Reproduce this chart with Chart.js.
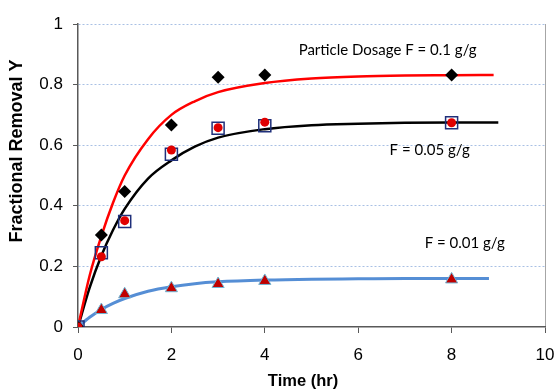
<!DOCTYPE html>
<html>
<head>
<meta charset="utf-8">
<script src="https://cdn.jsdelivr.net/npm/chart.js@4/dist/chart.umd.min.js"></script>
<style>
  html, body { margin: 0; padding: 0; background: #fff; }
  #wrap { width: 556px; height: 390px; position: relative; }
</style>
</head>
<body>
<div id="wrap"><canvas id="graph"></canvas></div>
<script>
// measured points
let times = [0, 0.5, 1, 2, 3, 4, 8];
let dose01 = [0, 0.304, 0.447, 0.667, 0.824, 0.832, 0.832];
let dose005Circle = [0, 0.232, 0.351, 0.584, 0.658, 0.676, 0.674];
let dose005Square = [0, 0.245, 0.348, 0.57, 0.656, 0.664, 0.674];
let dose001 = [0, 0.056, 0.108, 0.128, 0.142, 0.152, 0.157];

// fitted curves
let redTimes = [0, 0.25, 0.5, 0.75, 1, 1.5, 2, 2.5, 3, 4, 5, 6, 7, 8, 8.9];
let redCurve = [0, 0.17, 0.3, 0.41, 0.5, 0.62, 0.7, 0.745, 0.775, 0.805, 0.82, 0.827, 0.83, 0.831, 0.832];
let blackTimes = [0, 0.25, 0.5, 0.75, 1, 1.5, 2, 2.5, 3, 4, 5, 6, 7, 8, 9];
let blackCurve = [0, 0.13, 0.235, 0.32, 0.39, 0.49, 0.55, 0.595, 0.625, 0.653, 0.666, 0.671, 0.674, 0.675, 0.675];
let blueTimes = [0, 0.25, 0.5, 0.75, 1, 1.5, 2, 2.5, 3, 4, 5, 6, 7, 8, 8.8];
let blueCurve = [0, 0.032, 0.058, 0.078, 0.094, 0.118, 0.133, 0.143, 0.149, 0.155, 0.158, 0.159, 0.16, 0.16, 0.16];

let xTicks = [0, 2, 4, 6, 8, 10];
let yTicks = [0, 0.2, 0.4, 0.6, 0.8, 1];

let xTitle = "Time (hr)";
let yTitle = "Fractional Removal Y";
let noteText = ["Particle Dosage F = 0.1 g/g", "F = 0.05 g/g", "F = 0.01 g/g"];
let noteX = [6.63, 7.53, 8.28];
let noteY = [0.914, 0.584, 0.277];

const pts = (xs, ys) => xs.map((x, i) => ({ x: x, y: ys[i] }));

const notesPlugin = {
  id: "notes",
  afterDatasetsDraw(chart) {
    const ctx = chart.ctx;
    const xs = chart.scales.x, ys = chart.scales.y;
    ctx.save();
    ctx.font = "15px Lato";
    ctx.fillStyle = "#000";
    ctx.textAlign = "center";
    ctx.textBaseline = "middle";
    noteText.forEach((t, i) => {
      ctx.fillText(t, xs.getPixelForValue(noteX[i]), ys.getPixelForValue(noteY[i]));
    });
    // axis titles
    ctx.font = "bold 16.5px 'Liberation Sans', Arial";
    ctx.fillText(xTitle, 303, 381);
    ctx.translate(17, 151);
    ctx.rotate(-Math.PI / 2);
    ctx.font = "bold 18px 'Liberation Sans', Arial";
    ctx.fillText(yTitle, 0, 0);
    ctx.restore();
  },
};

const tickFont = { family: "'Liberation Sans', Arial, sans-serif", size: 17 };

let chart_element = document.getElementById("graph").getContext("2d");
new Chart(chart_element, {
  type: "scatter",
  data: {
    datasets: [
      {
        data: pts(times, dose005Circle),
        pointStyle: "circle",
        pointRadius: 4.5,
        backgroundColor: "#e00000",
        borderColor: "#e00000",
        borderWidth: 0,
      },
      {
        data: pts(times, dose005Square),
        pointStyle: "rect",
        pointRadius: 8.5,
        backgroundColor: "rgba(0,0,0,0)",
        borderColor: "#1f2f7a",
        borderWidth: 1.5,
      },
      {
        data: pts(times, dose01),
        pointStyle: "rectRot",
        pointRadius: 6.5,
        backgroundColor: "#000",
        borderColor: "#000",
        borderWidth: 0,
      },
      {
        data: pts(times, dose001),
        pointStyle: "triangle",
        pointRadius: 7,
        backgroundColor: "#c00000",
        borderColor: "#6fb6d6",
        borderWidth: 1,
      },
      {
        data: pts(redTimes, redCurve),
        showLine: true,
        pointRadius: 0,
        borderColor: "#ff0000",
        borderWidth: 2.5,
        cubicInterpolationMode: "monotone",
      },
      {
        data: pts(blackTimes, blackCurve),
        showLine: true,
        pointRadius: 0,
        borderColor: "#000",
        borderWidth: 2.5,
        cubicInterpolationMode: "monotone",
      },
      {
        data: pts(blueTimes, blueCurve),
        showLine: true,
        pointRadius: 0,
        borderColor: "#558ed5",
        borderWidth: 3,
        cubicInterpolationMode: "monotone",
      },
    ],
  },
  options: {
    animation: false,
    responsive: true,
    maintainAspectRatio: false,
    layout: { padding: { left: 0, right: 11, top: 24, bottom: 0 } },
    plugins: {
      legend: { display: false },
      tooltip: { enabled: false },
    },
    scales: {
      x: {
        min: 0,
        max: 10,
        afterBuildTicks: (s) => { s.ticks = xTicks.map((v) => ({ value: v })); },
        afterFit: (s) => { s.height = 63; },
        afterUpdate: (s) => { s.paddingRight = 0; },
        grid: {
          color: (c) => (c.tick && c.tick.value === 10 ? "#a6a6a6" : "rgba(0,0,0,0)"),
          tickColor: "#595959",
          tickLength: 6,
          lineWidth: 1,
        },
        border: { color: "#595959", width: 1.5 },
        ticks: { padding: 12, maxRotation: 0, color: "#000", font: tickFont, callback: (v) => String(v) },
      },
      y: {
        min: 0,
        max: 1,
        afterBuildTicks: (s) => { s.ticks = yTicks.map((v) => ({ value: v })); },
        afterFit: (s) => { s.width = 78; },
        grid: {
          color: (c) => (c.tick && c.tick.value === 0 ? "rgba(0,0,0,0)" : "#a9c0e4"),
          tickColor: "#595959",
          tickLength: 5,
          tickBorderDash: [],
          lineWidth: 1,
        },
        border: { color: "#595959", width: 1.5, dash: [2, 2] },
        ticks: { padding: 10, color: "#000", font: tickFont, callback: (v) => String(v) },
      },
    },
  },
  plugins: [notesPlugin],
});
</script>
</body>
</html>
